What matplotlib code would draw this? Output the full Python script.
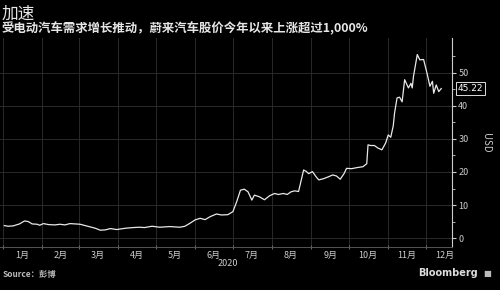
import matplotlib
matplotlib.use("Agg")
import matplotlib.pyplot as plt
import matplotlib.dates as mdates
import pandas as pd
import numpy as np

plt.rcParams['font.family'] = ['Noto Sans CJK SC', 'DejaVu Sans']

dates = ["2020-01-02","2020-01-05","2020-01-09","2020-01-14","2020-01-18","2020-01-21","2020-01-24",
         "2020-01-28","2020-01-30","2020-02-02","2020-02-06","2020-02-11","2020-02-15","2020-02-19",
         "2020-02-23","2020-02-27","2020-03-02","2020-03-08","2020-03-14","2020-03-18","2020-03-22",
         "2020-03-26","2020-03-31","2020-04-07","2020-04-13","2020-04-18","2020-04-22","2020-04-28",
         "2020-05-04","2020-05-12","2020-05-20","2020-05-24","2020-05-28","2020-06-01","2020-06-05",
         "2020-06-09","2020-06-13","2020-06-18","2020-06-22","2020-06-27","2020-07-01","2020-07-04",
         "2020-07-07","2020-07-10","2020-07-13","2020-07-16","2020-07-18","2020-07-22","2020-07-26",
         "2020-07-30","2020-08-03","2020-08-06","2020-08-10","2020-08-13","2020-08-16","2020-08-19",
         "2020-08-22","2020-08-26","2020-08-28","2020-08-30","2020-09-02","2020-09-05","2020-09-07",
         "2020-09-11","2020-09-15","2020-09-18","2020-09-21","2020-09-24","2020-09-27","2020-09-29",
         "2020-10-03","2020-10-07","2020-10-12","2020-10-15","2020-10-16","2020-10-18","2020-10-21",
         "2020-10-24","2020-10-27","2020-10-30","2020-11-01","2020-11-03","2020-11-05","2020-11-06",
         "2020-11-08","2020-11-10","2020-11-12","2020-11-14","2020-11-17","2020-11-19","2020-11-20",
         "2020-11-21","2020-11-24","2020-11-26","2020-11-29","2020-12-02","2020-12-04","2020-12-06",
         "2020-12-07","2020-12-09","2020-12-11","2020-12-13"]
prices = [3.8,3.6,3.7,4.3,5.2,5.0,4.3,
          4.2,3.9,4.4,4.1,4.0,4.2,4.0,
          4.4,4.3,4.2,3.6,3.0,2.4,2.5,
          2.9,2.6,3.0,3.2,3.3,3.2,3.6,
          3.3,3.5,3.3,3.6,4.5,5.5,6.0,
          5.6,6.5,7.3,7.0,7.1,8.0,11.0,
          14.5,14.8,14.0,11.5,13.0,12.5,11.6,
          12.8,13.5,13.2,13.5,13.2,14.0,14.3,
          14.1,20.6,20.2,19.5,20.1,18.5,17.6,
          18.0,18.6,19.1,18.8,17.8,19.5,21.1,
          21.0,21.3,21.6,22.5,28.2,28.0,28.0,
          27.2,26.7,28.8,31.2,30.5,34.0,37.8,
          42.4,42.6,41.2,47.9,45.4,46.8,45.4,
          48.9,55.5,53.9,54.0,49.4,45.9,47.4,
          43.8,46.3,44.3,45.22]
last_label = "45.22"
month_labels = ["1月","2月","3月","4月","5月","6月","7月","8月","9月","10月","11月","12月"]
y_ticks = [0, 10, 20, 30, 40, 50]

x = pd.to_datetime(dates)

fig = plt.figure(figsize=(5, 2.9), dpi=100, facecolor='black')
ax = fig.add_axes([0.0, 0.148, 0.904, 0.721], facecolor='black')

ax.plot(x, prices, color='#e8e8e8', lw=0.9, zorder=3)

ax.set_xlim(pd.Timestamp("2019-12-29 14:00"), pd.Timestamp("2020-12-21 12:00"))
ax.set_ylim(-2.7, 60.5)

# x axis: gridlines at month starts, labels mid-month
month_starts = pd.date_range("2020-01-01", "2020-12-01", freq="MS")
month_mids = month_starts + pd.Timedelta(days=15)
ax.set_xticks(month_starts)
ax.set_xticklabels([])
ax.set_xticks(month_mids, minor=True)
ax.set_xticklabels(month_labels, minor=True)
ax.tick_params(axis='x', which='major', length=3, color='#666666', direction='inout')
ax.tick_params(axis='x', which='minor', length=0, labelsize=6.5, labelcolor='#cccccc', pad=3)

# y axis on right
ax.yaxis.tick_right()
ax.yaxis.set_label_position('right')
ax.set_yticks(y_ticks)
ax.set_yticks(np.arange(5, 60, 10), minor=True)
ax.tick_params(axis='y', which='major', length=3, color='#cccccc', labelsize=6.5,
               labelcolor='#cccccc', pad=1.5)
ax.tick_params(axis='y', which='minor', length=2, color='#cccccc')
ax.set_ylabel("USD", rotation=270, color='#cccccc', fontsize=7, labelpad=16)

ax.grid(True, which='major', color='#2a2a2a', lw=0.7)
for s in ['top', 'left']:
    ax.spines[s].set_visible(False)
ax.spines['right'].set_color('#cccccc')
ax.spines['right'].set_linewidth(0.8)
ax.spines['bottom'].set_color('#555555')
ax.spines['bottom'].set_linewidth(0.7)

# last value label
ax.annotate(last_label, xy=(1.0, prices[-1]), xycoords=('axes fraction', 'data'),
            xytext=(4, 0), textcoords='offset points', ha='left', va='center',
            fontsize=6.5, color='white', family='DejaVu Sans',
            bbox=dict(boxstyle='square,pad=0.2', fc='black', ec='#dddddd', lw=0.7))

# year label
fig.text(0.455, 0.092, "2020", color='#cccccc', fontsize=6.5, ha='center', va='center')

fig.text(0.004, 0.952, "加速", color='#e6e6e6', fontsize=12, ha='left', va='center')
fig.text(0.004, 0.9, "受电动汽车需求增长推动，蔚来汽车股价今年以来上涨超过1,000%",
         color='#e6e6e6', fontsize=8.9, fontweight='bold', ha='left', va='center')
fig.text(0.006, 0.055, "Source：彭博", color='#bbbbbb', fontsize=6, fontweight='bold',
         ha='left', va='center')
fig.text(0.955, 0.058, "Bloomberg", color='#dddddd', fontsize=7, fontweight='bold',
         ha='right', va='center', family='DejaVu Sans')
fig.text(0.975, 0.058, "■", color='#bbbbbb', fontsize=6, ha='center', va='center',
         family='DejaVu Sans')

fig.savefig("out.png", dpi=100, facecolor='black')
